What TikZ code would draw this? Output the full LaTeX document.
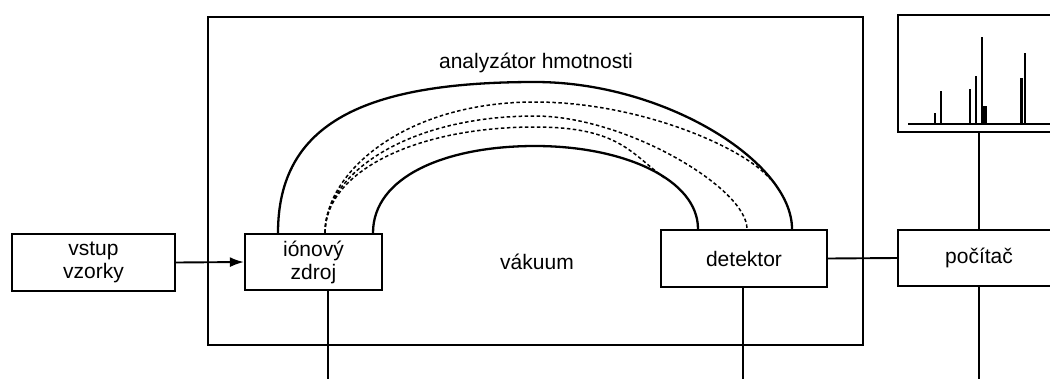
\documentclass[tikz,border=0pt]{standalone}
\usepackage{fontspec}
\setmainfont{Liberation Sans}
\usetikzlibrary{arrows.meta}
\begin{document}
\begin{tikzpicture}[x=1pt,y=-1pt,
  box/.style={draw,line width=2.2pt,rectangle,inner sep=0pt,align=center,
    font=\fontsize{21}{23}\selectfont},
  wire/.style={line width=1.9pt},
  beam/.style={line width=2.3pt},
  ionpath/.style={line width=1.5pt,dash pattern=on 3.5pt off 2.5pt},
  lbl/.style={font=\fontsize{21}{23}\selectfont,inner sep=0pt},
  peak/.style={line cap=butt}]
\useasboundingbox (0,0) rectangle (1050,378);
\fill[white] (0,0) rectangle (1050,378);
\clip (0,0) rectangle (1050,378);

% vacuum chamber
\node[box,minimum width=655,minimum height=328] (vac) at (535.5,181) {};

% functional blocks
\node[box,minimum width=163,minimum height=57] (inlet) at (93.5,262.5) {vstup\\vzorky};
\node[box,minimum width=137,minimum height=56] (ion) at (313.5,262) {iónový\\zdroj};
\node[box,minimum width=166,minimum height=57] (det) at (744,258.5) {detektor};
\node[box,minimum width=162,minimum height=56] (pc) at (979,258) {počítač};
\node[box,minimum width=162,minimum height=117] (spec) at (979,73.5) {};

% labels
\node[lbl] (title) at (536,63) {analyzátor hmotnosti};
\node[lbl] (vacl) at (537,262) {vákuum};

% mass spectrum
\coordinate (base0) at (908,124);
\coordinate (base1) at (1060,124);
\draw[line width=1.9pt] (base0) -- (base1);
\foreach \px/\py/\pw in {935/113/1.6, 941/91/2.2, 970/89/1.3, 976/76/2.1,
                         982/37/2.2, 985/106/4.2, 1021.5/78/3.6, 1025/53/2.2}
  \draw[peak,line width=\pw pt] (\px,124) -- (\px,\py);

% connectors
\draw[wire,-{Latex[length=14pt,width=10pt]}] (inlet.east) -- (ion.west);
\draw[wire] (det.east) -- (pc.west);
\draw[wire] (spec.south -| pc.north) -- (pc.north);
\coordinate (ionout) at (328,380);
\coordinate (detout) at (743,380);
\coordinate (pcout) at (979,380);
\draw[wire] (ion.south -| ionout) -- (ionout);
\draw[wire] (det.south -| detout) -- (detout);
\draw[wire] (pc.south) -- (pcout);

% analyser tube walls
\coordinate (o0) at (278,0 |- ion.north);
\coordinate (o1) at (792,0 |- det.north);
\coordinate (i0) at (373,0 |- ion.north);
\coordinate (i1) at (698,0 |- det.north);
\draw[beam] (o0) .. controls +(0,-110) and (365,82) .. (535,82)
                 .. controls (665,82) and (792,162) .. (o1);
\draw[beam] (i0) .. controls +(0,-56) and (445,146) .. (535,146)
                 .. controls (625,146) and (698,180) .. (i1);

% ion trajectories
\coordinate (s0) at (325,0 |- ion.north);
\coordinate (d1) at (747,0 |- det.north);
\draw[ionpath] (s0) .. controls (325,172) and (405,102) .. (535,102)
                    .. controls (640,102) and (745,148) .. (770,179);
\draw[ionpath] (s0) .. controls (325,172) and (410,116) .. (535,116)
                    .. controls (625,116) and (747,188) .. (d1);
\draw[ionpath] (s0) .. controls (325,172) and (415,127) .. (535,127)
                    .. controls (620,127) and (631,154) .. (666,179);
\end{tikzpicture}
\end{document}
